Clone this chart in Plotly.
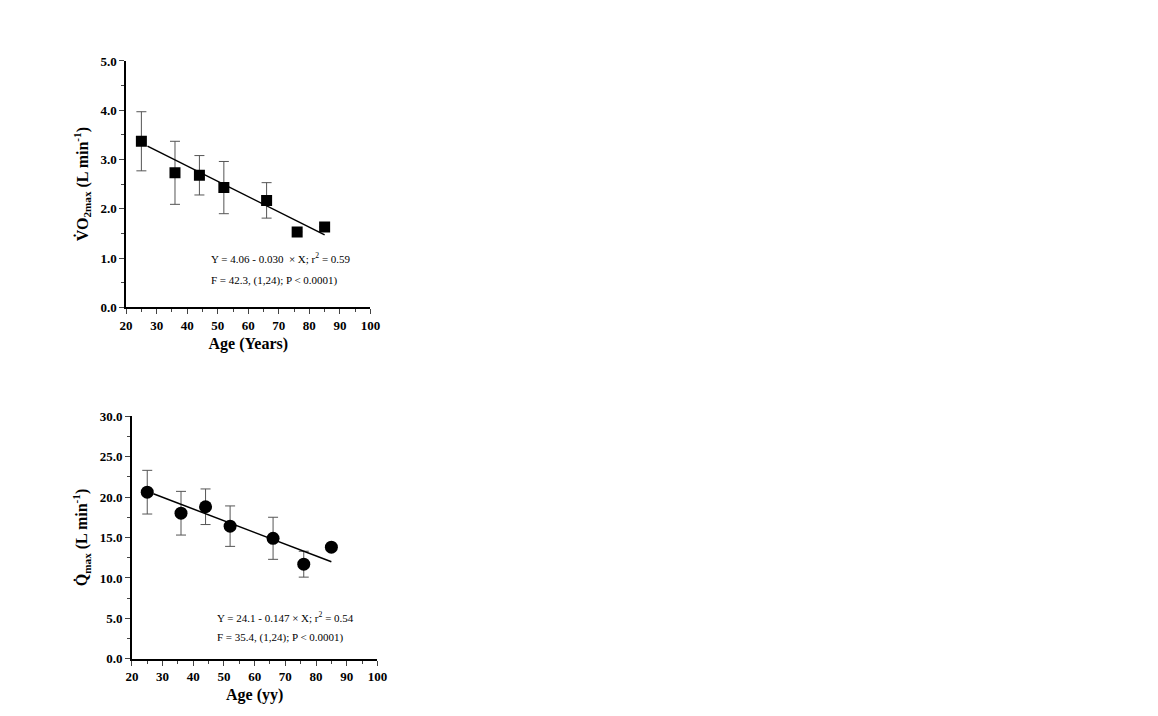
import plotly.graph_objects as go

# Age groups (years)
age = [25, 36, 44, 52, 66, 76, 85]

# VO2max (L/min), mean and SD
vo2_mean = [3.37, 2.73, 2.68, 2.43, 2.17, 1.53, 1.63]
vo2_sd = [0.60, 0.64, 0.40, 0.53, 0.36, 0, 0]
vo2_fit_x = [27, 85]
vo2_fit_y = [3.27, 1.47]

# Qmax (L/min), mean and SD
q_mean = [20.6, 18.0, 18.8, 16.4, 14.9, 11.7, 13.8]
q_sd = [2.7, 2.7, 2.2, 2.5, 2.6, 1.6, 0]
q_fit_x = [27, 85]
q_fit_y = [20.4, 12.0]

serif = "Liberation Serif, Times New Roman, serif"
err = dict(type="data", visible=True, color="#555", thickness=1, width=5)

fig = go.Figure()
fig.add_trace(go.Scatter(x=age, y=vo2_mean, mode="markers", error_y=dict(array=vo2_sd, **err),
                         marker=dict(symbol="square", size=11, color="black"), xaxis="x", yaxis="y"))
fig.add_trace(go.Scatter(x=vo2_fit_x, y=vo2_fit_y, mode="lines", line=dict(color="black", width=1.5),
                         xaxis="x", yaxis="y"))
fig.add_trace(go.Scatter(x=age, y=q_mean, mode="markers", error_y=dict(array=q_sd, **err),
                         marker=dict(symbol="circle", size=13, color="black"), xaxis="x2", yaxis="y2"))
fig.add_trace(go.Scatter(x=q_fit_x, y=q_fit_y, mode="lines", line=dict(color="black", width=1.5),
                         xaxis="x2", yaxis="y2"))

def xax(dom, anchor, title):
    return dict(domain=dom, anchor=anchor, range=[20, 100], tickvals=list(range(20, 101, 10)),
                showline=True, linecolor="black", linewidth=1.5, ticks="outside", ticklen=5,
                minor=dict(dtick=5, ticks="outside", ticklen=3), showgrid=False, zeroline=False,
                automargin=False,
                tickfont=dict(family=serif, size=13, color="black", weight="bold"),
                title=dict(text="<b>%s</b>" % title, font=dict(family=serif, size=16, color="black"), standoff=6))

def yax(dom, anchor, top, step, title):
    return dict(domain=dom, anchor=anchor, range=[0, top], dtick=step, tickformat=".1f",
                showline=True, linecolor="black", linewidth=1.5, ticks="outside", ticklen=5,
                minor=dict(dtick=step / 2, ticks="outside", ticklen=3), showgrid=False, zeroline=False,
                automargin=False,
                tickfont=dict(family=serif, size=13, color="black", weight="bold"),
                title=dict(text=title, font=dict(family=serif, size=16, color="black"), standoff=8))

fig.update_layout(
    width=1158, height=716, showlegend=False, plot_bgcolor="white", paper_bgcolor="white",
    margin=dict(l=0, r=0, t=0, b=0, autoexpand=False),
    xaxis=xax([0.102, 0.313], "y", "Age (Years)"),
    yaxis=yax([0.582, 0.926], "x", 5.0, 1.0, "<b>V̇O<sub>2max</sub> (L min<sup>-1</sup>)</b>"),
    xaxis2=xax([0.107, 0.319], "y2", "Age (yy)"),
    yaxis2=yax([0.091, 0.430], "x2", 30.0, 5.0, "<b>Q̇<sub>max</sub> (L min<sup>-1</sup>)</b>"),
)

notes = [
    ("x", "y", 1.0, "Y = 4.06 - 0.030  × X; r<sup>2</sup> = 0.59"),
    ("x", "y", 0.55, "F = 42.3, (1,24); P < 0.0001)"),
    ("x2", "y2", 5.2, "Y = 24.1 - 0.147 × X; r<sup>2</sup> = 0.54"),
    ("x2", "y2", 2.6, "F = 35.4, (1,24); P < 0.0001)"),
]
for xr, yr, yv, t in notes:
    fig.add_annotation(x=47, y=yv, xref=xr, yref=yr, text=t, showarrow=False, xanchor="left",
                       font=dict(family=serif, size=11, color="black"))

fig.write_html("out.html")
